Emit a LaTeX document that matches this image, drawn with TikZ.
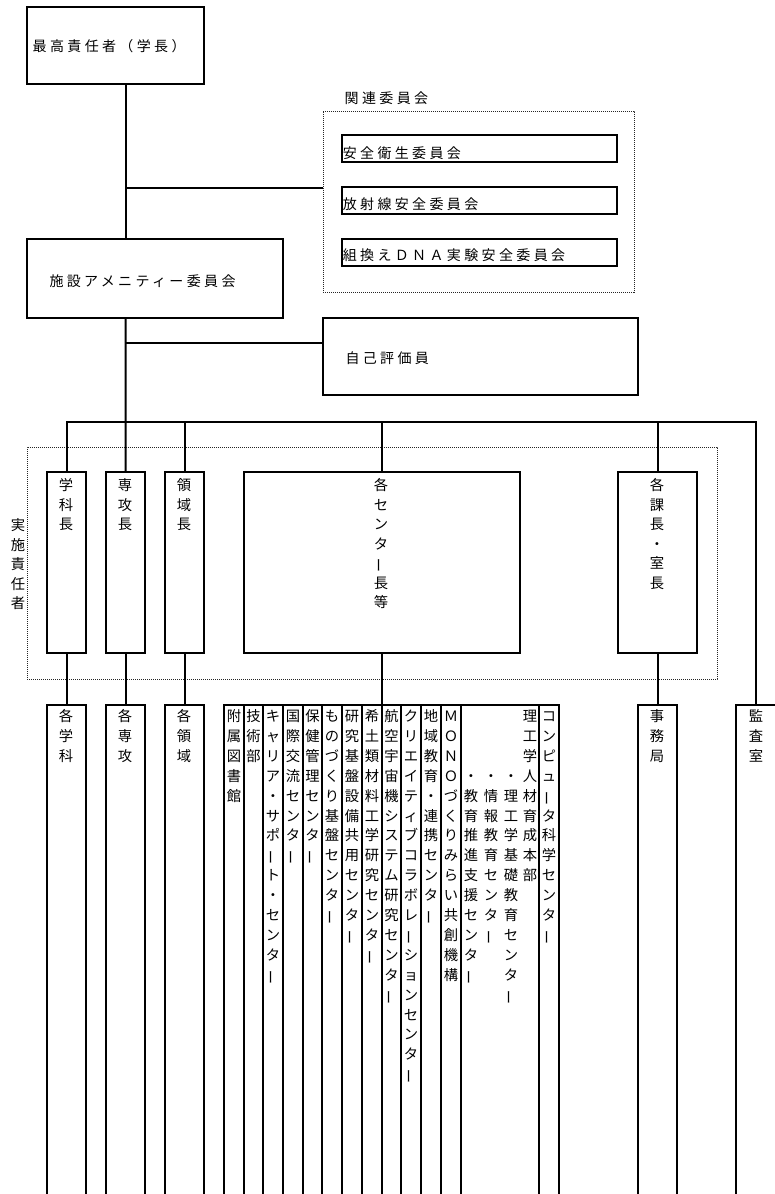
\documentclass[tikz,border=0pt]{standalone}
\usepackage{fontspec}
\usepackage{graphicx}
\newfontfamily\jp[LetterSpace=24]{Noto Sans CJK JP}
\newfontfamily\jpv{Noto Sans CJK JP}
\newlength\vp
\newcommand\vchar[1]{\hbox to 20pt{\hss\raisebox{0pt}[\dimexpr0.5\vp+5.4pt\relax][\dimexpr0.5\vp-5.4pt\relax]{#1}\hss}}
\def\vtx#1{\ifx\relax#1\else\vchar{\ifx ー#1\rotatebox[origin=c]{90}{ー}\else#1\fi}\expandafter\vtx\fi}
\newcommand\vstack[2]{\vbox{\offinterlineskip\vp=#1\relax\vtx#2\relax}}
\tikzset{
  box/.style={draw, line width=2pt, inner sep=0pt},
  dbox/.style={draw=black!85, line width=0.8pt, dash pattern=on 1.2pt off 0.8pt, inner sep=0pt},
  conn/.style={draw, line width=2pt},
  htext/.style={inner sep=0pt, anchor=base west, font=\jp\fontsize{14pt}{14pt}\selectfont},
  vt/.style={inner sep=0pt, anchor=north, font=\jpv\fontsize{14.3pt}{14.3pt}\selectfont},
}
\begin{document}
\begin{tikzpicture}[x=1pt,y=-1pt]
\useasboundingbox (0,0) rectangle (775,1194);
\clip (0,0) rectangle (775,1194);
\fill[white] (0,0) rectangle (775,1194);

% top part
\node[box, minimum width=177pt, minimum height=77pt] (top) at (115.5,45.5) {};
\node[htext] (ttop) at (32.5,51.3) {最高責任者（学長）};

\node[dbox, minimum width=311pt, minimum height=181pt] (comm) at (478.5,201.5) {};
\node[htext] (tcomm) at (344.5,103.3) {関連委員会};
\node[box, minimum width=275pt, minimum height=27pt] (c1) at (479.5,148.5) {};
\node[box, minimum width=275pt, minimum height=27pt] (c2) at (479.5,200.5) {};
\node[box, minimum width=275pt, minimum height=27pt] (c3) at (479.5,252.5) {};
\node[htext] (tc1) at (342.6,158.0) {安全衛生委員会};
\node[htext] (tc2) at (342.6,209.3) {放射線安全委員会};
\node[htext] (tc3) at (342.6,260.0) {組換えＤＮＡ実験安全委員会};

\node[box, minimum width=256pt, minimum height=79pt] (amen) at (155,278.5) {};
\node[htext] (tamen) at (49.3,286.3) {施設アメニティー委員会};

\node[box, minimum width=315pt, minimum height=77pt] (self) at (480.5,356.5) {};
\node[htext] (tself) at (345.3,363.3) {自己評価員};

% implementers
\node[dbox, minimum width=690pt, minimum height=232pt] (impl) at (372,563) {};
\node[vt] (timpl) at (18,515.25) {\vstack{19.5pt}{実施責任者}};

\node[box, minimum width=39pt, minimum height=181pt] (gakkacho) at (66.5,562.5) {};
\node[box, minimum width=39pt, minimum height=181pt] (senkocho) at (125.5,562.5) {};
\node[box, minimum width=39pt, minimum height=181pt] (ryoikicho) at (184.5,562.5) {};
\node[box, minimum width=276pt, minimum height=181pt] (centcho) at (382,562.5) {};
\node[box, minimum width=79pt, minimum height=181pt] (kacho) at (657.5,562.5) {};
\node[vt] (tgakkacho) at (66,475.25) {\vstack{19.5pt}{学科長}};
\node[vt] (tsenkocho) at (125,475.25) {\vstack{19.5pt}{専攻長}};
\node[vt] (tryoikicho) at (184,475.25) {\vstack{19.5pt}{領域長}};
\node[vt] (tcentcho) at (381,475.25) {\vstack{19.5pt}{各センター長等}};
\node[vt] (tkacho) at (657,475.25) {\vstack{19.5pt}{各課長・室長}};

% lower row
\node[box, minimum width=39pt, minimum height=505pt] (gakka) at (66.5,957.5) {};
\node[box, minimum width=39pt, minimum height=505pt] (senko) at (125.5,957.5) {};
\node[box, minimum width=39pt, minimum height=505pt] (ryoiki) at (184.5,957.5) {};
\node[box, minimum width=335pt, minimum height=505pt] (grp) at (391.5,957.5) {};
\node[box, minimum width=39pt, minimum height=505pt] (jimu) at (657.5,957.5) {};
\node[box, minimum width=40pt, minimum height=505pt] (kansa) at (756,957.5) {};
\foreach \xx in {244,263,283,303,322,342,362,382,401,421,441,461,539}
  \draw[conn] (\xx,0 |- grp.north) -- (\xx,0 |- grp.south);

\node[vt] (tgakka) at (66,706) {\vstack{19.9pt}{各学科}};
\node[vt] (tsenko) at (125,706) {\vstack{19.9pt}{各専攻}};
\node[vt] (tryoiki) at (184,706) {\vstack{19.9pt}{各領域}};
\node[vt] (tjimu) at (657,706) {\vstack{19.9pt}{事務局}};
\node[vt] (tkansa) at (756,706) {\vstack{19.9pt}{監査室}};

\node[vt] (g1) at (234,706) {\vstack{19.9pt}{附属図書館}};
\node[vt] (g2) at (253.5,706) {\vstack{19.9pt}{技術部}};
\node[vt] (g3) at (273,706) {\vstack{19.9pt}{キャリア・サポート・センター}};
\node[vt] (g4) at (293,706) {\vstack{19.9pt}{国際交流センター}};
\node[vt] (g5) at (312.5,706) {\vstack{19.9pt}{保健管理センター}};
\node[vt] (g6) at (332,706) {\vstack{19.9pt}{ものづくり基盤センター}};
\node[vt] (g7) at (352,706) {\vstack{19.9pt}{研究基盤設備共用センター}};
\node[vt] (g8) at (372,706) {\vstack{19.9pt}{希土類材料工学研究センター}};
\node[vt] (g9) at (391.5,706) {\vstack{19.9pt}{航空宇宙機システム研究センター}};
\node[vt] (g10) at (411,706) {\vstack{19.9pt}{クリエイティブコラボレーションセンター}};
\node[vt] (g11) at (431,706) {\vstack{19.9pt}{地域教育・連携センター}};
\node[vt] (g12) at (451,706) {\vstack{19.9pt}{ＭＯＮＯづくりみらい共創機構}};
\node[vt] (g13a) at (530,706) {\vstack{19.9pt}{理工学人材育成本部}};
\node[vt] (g13b) at (511,765.7) {\vstack{19.9pt}{・理工学基礎教育センター}};
\node[vt] (g13c) at (491,765.7) {\vstack{19.9pt}{・情報教育センター}};
\node[vt] (g13d) at (471,765.7) {\vstack{19.9pt}{・教育推進支援センター}};
\node[vt] (g14) at (549,706) {\vstack{19.9pt}{コンピュータ科学センター}};

% connectors
\coordinate (j1) at (125.7,188);
\coordinate (j2) at (125.7,343);
\coordinate (bus) at (0,421.5);
\draw[conn] (top.south -| j1) -- (amen.north -| j1);
\draw[conn] (j1) -- (j1 -| comm.west);
\draw[conn] (amen.south -| j2) -- (senkocho.north);
\draw[conn] (j2) -- (j2 -| self.west);
\draw[conn] (gakkacho.north) -- (gakkacho.north |- bus) -- (kansa.north |- bus) -- (kansa.north);
\draw[conn] (ryoikicho.north |- bus) -- (ryoikicho.north);
\draw[conn] (centcho.north |- bus) -- (centcho.north);
\draw[conn] (kacho.north |- bus) -- (kacho.north);
\draw[conn] (gakkacho.south) -- (gakka.north);
\draw[conn] (senkocho.south) -- (senko.north);
\draw[conn] (ryoikicho.south) -- (ryoiki.north);
\draw[conn] (centcho.south) -- (centcho.south |- grp.north);
\draw[conn] (kacho.south) -- (jimu.north);
\end{tikzpicture}
\end{document}
